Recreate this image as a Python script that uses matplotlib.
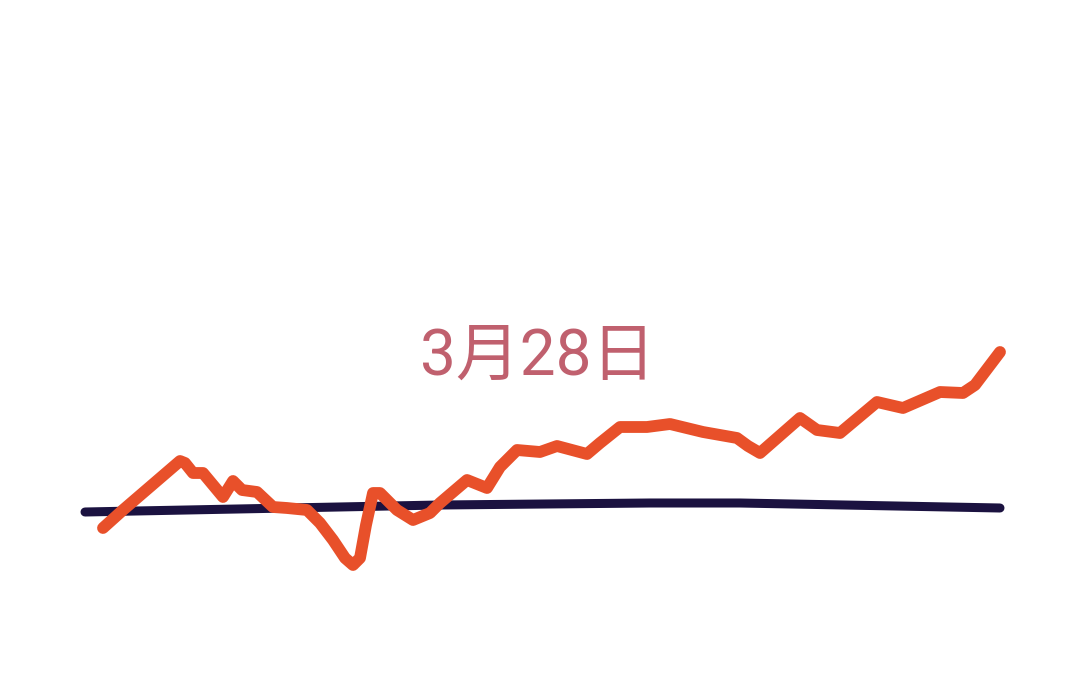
import matplotlib.pyplot as plt

plt.rcParams['font.family'] = ['Noto Sans CJK SC', 'DejaVu Sans']

# curva naranja (tiempo, valor)
t_linea = [103, 123, 180, 185, 193, 203, 223, 233, 242, 257, 273, 287, 307, 320,
           333, 345, 353, 360, 366, 373, 380, 397, 413, 430, 440, 467, 487, 500,
           517, 540, 557, 587, 600, 620, 647, 670, 703, 737, 748, 760, 800, 817,
           840, 877, 903, 940, 963, 975, 1000]
v_linea = [-1.8, 0.0, 4.9, 4.7, 3.7, 3.7, 1.3, 2.9, 2.0, 1.8, 0.3, 0.2, 0.0, -1.3,
           -3.0, -4.8, -5.5, -4.8, -1.5, 1.7, 1.7, 0.0, -1.0, -0.3, 0.7, 3.0, 2.2,
           4.3, 6.0, 5.8, 6.4, 5.6, 6.7, 8.3, 8.3, 8.6, 7.8, 7.2, 6.4, 5.7, 9.2,
           8.0, 7.7, 10.8, 10.2, 11.8, 11.7, 12.5, 15.8]

# linea de referencia
t_base = [85, 440, 650, 740, 1000]
v_base = [-0.2, 0.5, 0.7, 0.7, 0.2]

titulo = '3月28日'

fig = plt.figure(figsize=(10.8, 6.79), dpi=100)
ax = fig.add_axes([0, 0, 1, 1])
ax.plot(t_base, v_base, color='#1b1240', lw=6.5, solid_capstyle='round')
ax.plot(t_linea, v_linea, color='#e8502a', lw=8.5, solid_capstyle='round',
        solid_joinstyle='round')
ax.set_xlim(0, 1080)
ax.set_ylim(-16.9, 51)
ax.axis('off')
fig.text(0.498, 0.474, titulo, ha='center', va='center', fontsize=46,
         color='#c0606e', family=['Roboto', 'Noto Sans CJK SC'])
fig.savefig('out.png', dpi=100, facecolor='white')
